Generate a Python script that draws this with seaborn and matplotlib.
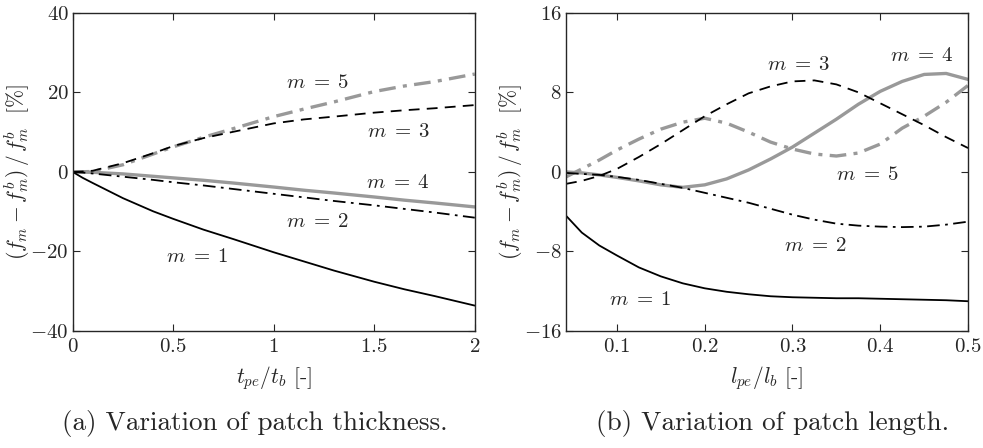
import matplotlib
matplotlib.use("Agg")
import matplotlib.pyplot as plt
import seaborn as sns
import numpy as np
import pandas as pd
from matplotlib.ticker import FuncFormatter

# ---------------- data ----------------
# (a) variation of patch thickness
t_ratio = [0, 0.05, 0.1, 0.25, 0.4, 0.5, 0.65, 0.8, 1.0, 1.15, 1.3, 1.5, 1.65, 1.8, 2.0]
a_m1 = [0, -1.5, -2.8, -6.6, -9.9, -11.8, -14.5, -16.9, -20.2, -22.5, -24.8,
        -27.6, -29.5, -31.2, -33.6]
a_m2 = [0, -0.15, -0.4, -1.2, -2.0, -2.6, -3.4, -4.3, -5.5, -6.4, -7.3,
        -8.4, -9.3, -10.2, -11.5]
a_m3 = [0, 0.1, 0.3, 2.2, 4.7, 6.5, 8.5, 10.1, 12.2, 13.2, 13.9,
        14.9, 15.5, 16.0, 16.8]
a_m4 = [0, -0.05, -0.1, -0.5, -1.1, -1.5, -2.1, -2.8, -3.8, -4.6, -5.3,
        -6.3, -7.1, -7.8, -8.8]
a_m5 = [0, 0.05, 0.1, 1.8, 4.5, 6.3, 8.7, 10.9, 13.9, 15.8, 17.6,
        20.2, 21.6, 22.7, 24.6]

# (b) variation of patch length
l_ratio = [0.042, 0.06, 0.08, 0.1, 0.125, 0.15, 0.175, 0.2, 0.225, 0.25,
           0.275, 0.3, 0.325, 0.35, 0.375, 0.4, 0.425, 0.45, 0.475, 0.5]
b_m1 = [-4.4, -6.1, -7.4, -8.4, -9.6, -10.5, -11.2, -11.7, -12.05, -12.3,
        -12.5, -12.6, -12.65, -12.7, -12.7, -12.75, -12.8, -12.85, -12.9, -13.0]
b_m2 = [-0.1, -0.2, -0.3, -0.5, -0.8, -1.2, -1.6, -2.1, -2.6, -3.1,
        -3.7, -4.3, -4.8, -5.2, -5.4, -5.5, -5.55, -5.5, -5.3, -5.0]
b_m3 = [-1.2, -0.9, -0.4, 0.3, 1.5, 2.8, 4.2, 5.6, 6.8, 7.9,
        8.6, 9.1, 9.2, 8.8, 8.0, 6.9, 5.8, 4.7, 3.5, 2.4]
b_m4 = [0.0, -0.1, -0.3, -0.55, -0.9, -1.3, -1.55, -1.3, -0.7, 0.2,
        1.3, 2.5, 3.9, 5.3, 6.8, 8.1, 9.1, 9.8, 9.9, 9.3]
b_m5 = [-0.5, 0.3, 1.2, 2.2, 3.3, 4.3, 5.0, 5.4, 4.9, 4.0,
        3.0, 2.3, 1.8, 1.6, 1.9, 2.8, 4.4, 5.6, 7.0, 8.7]

labels = ["m = 1", "m = 2", "m = 3", "m = 4", "m = 5"]

# ---------------- style ----------------
sns.set_style("ticks")
plt.rcParams["font.family"] = "serif"
plt.rcParams["font.serif"] = ["cmr10", "DejaVu Serif"]
plt.rcParams["mathtext.fontset"] = "cm"
plt.rcParams["axes.formatter.use_mathtext"] = True
plt.rcParams["axes.unicode_minus"] = True

BLACK = "#000000"
GRAY = "#999999"
styles = {
    "m = 1": dict(color=BLACK, lw=1.3, linestyle="-"),
    "m = 2": dict(color=BLACK, lw=1.3, linestyle=(0, (7, 3, 1.5, 3))),
    "m = 3": dict(color=BLACK, lw=1.3, linestyle=(0, (6, 4))),
    "m = 4": dict(color=GRAY, lw=2.4, linestyle="-"),
    "m = 5": dict(color=GRAY, lw=2.4, linestyle=(0, (5, 2.2, 1.2, 2.2))),
}

fig = plt.figure(figsize=(9.83, 4.48), dpi=100)
axL = fig.add_axes([0.074, 0.261, 0.409, 0.7105])
axR = fig.add_axes([0.5758, 0.261, 0.409, 0.7105])

dfA = pd.DataFrame({"x": t_ratio * 5,
                    "y": a_m1 + a_m2 + a_m3 + a_m4 + a_m5,
                    "m": sum([[l] * len(t_ratio) for l in labels], [])})
dfB = pd.DataFrame({"x": l_ratio * 5,
                    "y": b_m1 + b_m2 + b_m3 + b_m4 + b_m5,
                    "m": sum([[l] * len(l_ratio) for l in labels], [])})

for ax, df in ((axL, dfA), (axR, dfB)):
    for lab in ["m = 4", "m = 5", "m = 1", "m = 2", "m = 3"]:
        sub = df[df["m"] == lab]
        sns.lineplot(data=sub, x="x", y="y", ax=ax, estimator=None,
                     sort=False, legend=False, **styles[lab])

# ---------------- axes formatting ----------------
fmt = FuncFormatter(lambda v, p: f"${v:g}$")
tick_fs = 15

axL.set_xlim(0, 2)
axL.set_ylim(-40, 40)
axL.set_xticks([0, 0.5, 1, 1.5, 2])
axL.set_yticks([-40, -20, 0, 20, 40])

axR.set_xlim(0.042, 0.5)
axR.set_ylim(-16, 16)
axR.set_xticks([0.1, 0.2, 0.3, 0.4, 0.5])
axR.set_yticks([-16, -8, 0, 8, 16])

for ax in (axL, axR):
    ax.xaxis.set_major_formatter(fmt)
    ax.yaxis.set_major_formatter(fmt)
    ax.tick_params(direction="in", top=True, right=True, length=5,
                   width=0.8, labelsize=tick_fs)
    ax.tick_params(axis="y", pad=3)
    ax.tick_params(axis="x", pad=5)
    for s in ax.spines.values():
        s.set_linewidth(1.0)
        s.set_visible(True)
    ax.set_ylabel(r"$(f_m - f_m^b)\,/\,f_m^b\ $ [%]", fontsize=15.5)

axL.yaxis.set_label_coords(-0.102, 0.5)
axR.yaxis.set_label_coords(-0.102, 0.5)

axL.set_xlabel(r"$t_{pe}/t_b$ [-]", fontsize=15.5, labelpad=6)
axR.set_xlabel(r"$l_{pe}/l_b$ [-]", fontsize=15.5, labelpad=6)

# curve labels
ann_fs = 15
def lab(ax, x, y, s):
    ax.text(x, y, "$" + s.replace(" = ", r"\;=\;") + "$", fontsize=ann_fs,
            ha="center", va="center")

lab(axL, 1.22, 22.3, "m = 5")
lab(axL, 1.62, 10.1, "m = 3")
lab(axL, 1.62, -2.8, "m = 4")
lab(axL, 1.22, -12.6, "m = 2")
lab(axL, 0.62, -21.3, "m = 1")

lab(axR, 0.307, 10.7, "m = 3")
lab(axR, 0.447, 11.7, "m = 4")
lab(axR, 0.386, -0.35, "m = 5")
lab(axR, 0.326, -7.4, "m = 2")
lab(axR, 0.1265, -12.9, "m = 1")

fig.text(255 / 983, 1 - 423 / 448, "(a) Variation of patch thickness.",
         fontsize=19.5, ha="center", va="center")
fig.text(773 / 983, 1 - 423 / 448, "(b) Variation of patch length.",
         fontsize=19.5, ha="center", va="center")

fig.savefig("out.png", dpi=100)
